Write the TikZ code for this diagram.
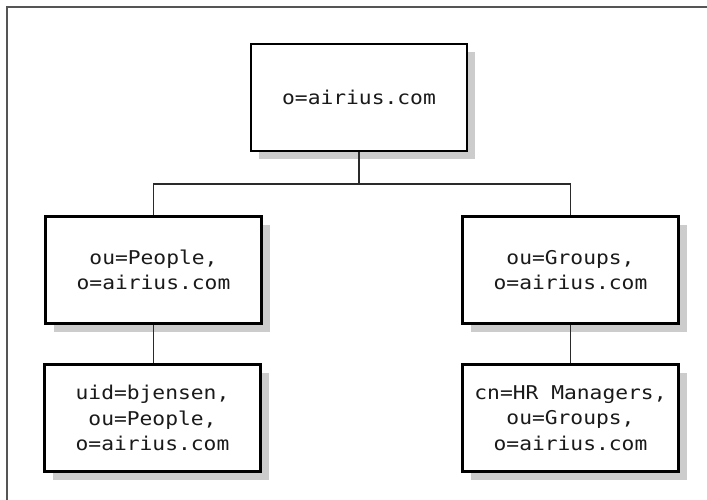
\documentclass[tikz,border=0pt]{standalone}
\usepackage{fontspec}
\setmonofont[FakeStretch=1.12]{DejaVu Sans Mono}
\usetikzlibrary{shadows}
\definecolor{shadowgray}{HTML}{CCCCCC}
\definecolor{framegray}{HTML}{555555}
\definecolor{linegray}{HTML}{2A2A2A}
\definecolor{textgray}{HTML}{1A1A1A}
\tikzset{
  entry/.style={draw=black, line width=2.2pt, fill=white, rectangle,
    minimum width=216pt, minimum height=107pt, inner sep=0pt,
    align=center, text=textgray,
    font=\ttfamily\fontsize{19}{25.5}\selectfont,
    drop shadow={shadow xshift=8pt, shadow yshift=-8pt, fill=shadowgray, opacity=1}},
  conn/.style={draw=linegray, line width=1.6pt},
  frameline/.style={draw=framegray, line width=2pt}
}
\begin{document}
\begin{tikzpicture}[x=1pt, y=-1pt]
\useasboundingbox (0,0) rectangle (707,500);
\draw[frameline] (7,500) -- (7,7) -- (707,7);
\node[entry] (top) at (359,97.5) {o=airius.com};
\node[entry] (lm) at (153.5,270) {ou=People,\\o=airius.com};
\node[entry] (lc) at (152.5,418) {uid=bjensen,\\ou=People,\\o=airius.com};
\node[entry] (rm) at (570.5,270) {ou=Groups,\\o=airius.com};
\node[entry] (rc) at (570.5,418) {cn=HR Managers,\\ou=Groups,\\o=airius.com};
\path (top.south) ++(0,32) coordinate (bus);
\draw[conn] (top.south) -- (bus);
\draw[conn] (lm.north) |- (bus) -| (rm.north);
\draw[conn] (lm.south) -- (lm.south |- lc.north);
\draw[conn] (rm.south) -- (rm.south |- rc.north);
\end{tikzpicture}
\end{document}
